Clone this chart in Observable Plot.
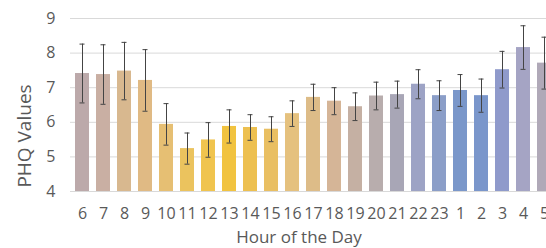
<!DOCTYPE html>
<html>
<head>
<meta charset="utf-8">
<script src="https://cdn.jsdelivr.net/npm/d3@7"></script>
<script src="https://cdn.jsdelivr.net/npm/@observablehq/plot@0.6"></script>
<style>
  html, body { margin: 0; padding: 0; background: #fff; overflow: hidden; width: 546px; height: 248px; }
  #chart { position: relative; width: 546px; height: 248px; overflow: hidden; }
  #chart svg { max-width: none !important; width: 556px !important; height: 248px !important; }
</style>
</head>
<body>
<div id="chart"></div>
<script>
const hours = ["6","7","8","9","10","11","12","13","14","15","16","17","18","19","20","21","22","23","1","2","3","4","5"];
const phq   = [7.41,7.38,7.48,7.21,5.94,5.24,5.49,5.88,5.85,5.80,6.25,6.72,6.61,6.45,6.76,6.80,7.10,6.77,6.92,6.77,7.52,8.16,7.71];
const errs  = [0.85,0.86,0.83,0.89,0.60,0.45,0.50,0.48,0.37,0.36,0.37,0.38,0.39,0.40,0.40,0.39,0.42,0.43,0.46,0.48,0.53,0.63,0.75];
const yTicks = [4,5,6,7,8,9];
const barColors = ["#BCA9AA","#C9AFA3","#D8B88F","#E0BA84","#E6BF73","#EBC35E","#F0C44E","#F1C340","#EDC050","#E9BF62","#E5C17E","#DDBC88","#D5B597","#C5B0A3","#B8ADAD","#A8A6B6","#9DA3C5","#8B9EC8","#7A97CA","#7A96CB","#8F9ACB","#A5A4C4","#B0A9B8"];
const xTitle = "Hour of the Day";
const yTitle = "PHQ Values";

const data = hours.map((h, i) => ({hour: h, value: phq[i], err: errs[i]}));

const plot = Plot.plot({
  width: 556,
  height: 248,
  marginLeft: 70,
  marginRight: 0,
  marginTop: 18,
  marginBottom: 57,
  style: {fontFamily: "'Open Sans', sans-serif", fontSize: "16px", color: "#595959", background: "white", maxWidth: "none"},
  x: {domain: hours, paddingInner: 0.35, paddingOuter: 0.175, label: null},
  y: {domain: [4, 9], label: null},
  color: {domain: hours, range: barColors},
  marks: [
    Plot.gridY(yTicks, {stroke: "#D9D9D9", strokeOpacity: 1}),
    Plot.barY(data, {x: "hour", y1: 4, y2: "value", fill: "hour"}),
    Plot.ruleX(data, {x: "hour", y1: d => d.value - d.err, y2: d => d.value + d.err, stroke: "#444", strokeWidth: 1}),
    Plot.tickY(data, {x: "hour", y: d => d.value - d.err, insetLeft: 4.5, insetRight: 4.5, stroke: "#444", strokeWidth: 1}),
    Plot.tickY(data, {x: "hour", y: d => d.value + d.err, insetLeft: 4.5, insetRight: 4.5, stroke: "#444", strokeWidth: 1}),
    Plot.axisX({tickSize: 0, tickPadding: 16, label: null}),
    Plot.axisY({ticks: yTicks, tickFormat: d3.format("d"), tickSize: 0, tickPadding: 15, label: null})
  ]
});

const svg = d3.select(plot);
svg.append("text")
  .attr("transform", "translate(24,136) rotate(-90)")
  .attr("text-anchor", "middle")
  .attr("dy", "0.35em")
  .attr("fill", "#595959")
  .style("font-size", "19px")
  .text(yTitle);
svg.append("text")
  .attr("x", 299)
  .attr("y", 237)
  .attr("text-anchor", "middle")
  .attr("dy", "0.35em")
  .attr("fill", "#595959")
  .style("font-size", "17px")
  .text(xTitle);

document.getElementById("chart").appendChild(plot);
</script>
</body>
</html>
